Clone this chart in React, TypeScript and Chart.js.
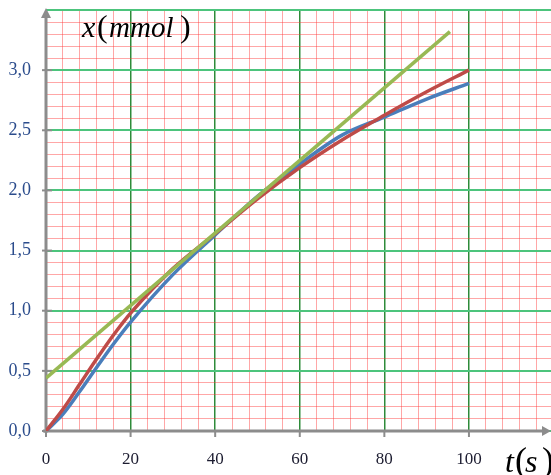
import { useEffect, useRef } from 'react';
import { Chart, registerables } from 'chart.js';

Chart.register(...registerables);

const W = 551;
const H = 475;

// time (s)
const T = [0, 4, 8, 12, 16, 20, 30, 40, 50, 60, 70, 80, 90, 100];
// red curve x (mmol)
const RED = [0, 0.18, 0.39, 0.6, 0.8, 0.98, 1.35, 1.64, 1.93, 2.19, 2.42, 2.625, 2.82, 3.0];
// blue curve x (mmol)
const BLUE = [0, 0.14, 0.33, 0.53, 0.725, 0.905, 1.3, 1.63, 1.95, 2.22, 2.46, 2.61, 2.76, 2.89];
// tangent line
const TAN_T = [0, 95.5];
const TAN_X = [0.44, 3.32];

const X_LABELS = [0, 20, 40, 60, 80, 100];
const Y_LABELS = [0, 0.5, 1.0, 1.5, 2.0, 2.5, 3.0];

const SERIF = '"Liberation Serif", "Times New Roman", serif';

function pts(xs: number[], ys: number[]) {
  return xs.map((x, i) => ({ x, y: ys[i] }));
}

export default function App() {
  const ref = useRef<HTMLCanvasElement>(null);

  useEffect(() => {
    if (!ref.current) return;

    const decor = {
      id: 'decor',
      beforeDatasetsDraw(chart: any) {
        const { ctx, chartArea: a, scales } = chart;
        const xs = scales.x;
        const ys = scales.y;
        const x0 = xs.getPixelForValue(0);
        const y0 = ys.getPixelForValue(0);
        ctx.save();
        ctx.strokeStyle = '#8c8c8c';
        ctx.fillStyle = '#8c8c8c';
        ctx.lineWidth = 3;
        // y axis
        ctx.beginPath();
        ctx.moveTo(x0, y0 + 2);
        ctx.lineTo(x0, a.top + 6);
        ctx.stroke();
        ctx.beginPath();
        ctx.moveTo(x0 - 5, a.top + 8);
        ctx.lineTo(x0 + 5, a.top + 8);
        ctx.lineTo(x0, a.top - 2);
        ctx.closePath();
        ctx.fill();
        // x axis
        ctx.beginPath();
        ctx.moveTo(x0 - 3, y0);
        ctx.lineTo(W - 7, y0);
        ctx.stroke();
        ctx.beginPath();
        ctx.moveTo(W - 9, y0 - 5);
        ctx.lineTo(W - 9, y0 + 5);
        ctx.lineTo(W, y0);
        ctx.closePath();
        ctx.fill();
        // tick marks
        ctx.lineWidth = 2;
        Y_LABELS.forEach((v) => {
          const py = ys.getPixelForValue(v);
          ctx.beginPath();
          ctx.moveTo(x0 - 4, py);
          ctx.lineTo(x0 + 6, py);
          ctx.stroke();
        });
        X_LABELS.forEach((v) => {
          const px = xs.getPixelForValue(v);
          ctx.beginPath();
          ctx.moveTo(px, y0);
          ctx.lineTo(px, y0 + 6);
          ctx.stroke();
        });
        ctx.restore();
      },
      afterDraw(chart: any) {
        const { ctx } = chart;
        ctx.save();
        ctx.fillStyle = '#000';
        ctx.textBaseline = 'alphabetic';
        ctx.textAlign = 'left';
        // x(mmol)
        ctx.font = `italic 30px ${SERIF}`;
        ctx.fillText('x', 82, 37);
        ctx.font = `32px ${SERIF}`;
        ctx.fillText('(', 97, 37);
        ctx.font = `italic 29px ${SERIF}`;
        ctx.fillText('mmol', 109, 37);
        ctx.font = `32px ${SERIF}`;
        ctx.fillText(')', 180, 37);
        // t(s)
        ctx.font = `italic 32px ${SERIF}`;
        ctx.fillText('t', 505, 472);
        ctx.font = `36px ${SERIF}`;
        ctx.fillText('(', 515, 472);
        ctx.font = `italic 32px ${SERIF}`;
        ctx.fillText('s', 525, 472);
        ctx.font = `36px ${SERIF}`;
        ctx.fillText(')', 542, 472);
        ctx.restore();
      },
    };

    const isMajorX = (v: number) => Math.round(v) % 20 === 0;
    const isMajorY = (v: number) => Math.round(v * 10) % 5 === 0;

    const chart = new Chart(ref.current, {
      type: 'line',
      data: {
        datasets: [
          {
            label: 'tangent',
            data: pts(TAN_T, TAN_X),
            borderColor: '#98b954',
            borderWidth: 3.5,
            pointRadius: 0,
            tension: 0,
          },
          {
            label: 'red',
            data: pts(T, RED),
            borderColor: '#be4b48',
            borderWidth: 3.5,
            pointRadius: 0,
            cubicInterpolationMode: 'monotone',
          },
          {
            label: 'blue',
            data: pts(T, BLUE),
            borderColor: '#4a7ebb',
            borderWidth: 3.5,
            pointRadius: 0,
            cubicInterpolationMode: 'monotone',
          },
        ],
      },
      options: {
        animation: false,
        responsive: false,
        devicePixelRatio: 1,
        layout: { padding: { left: 0, right: 0, top: 10, bottom: 0 } },
        plugins: {
          legend: { display: false },
          tooltip: { enabled: false },
        },
        scales: {
          x: {
            type: 'linear',
            min: 0,
            max: 119.4,
            afterFit(s: any) {
              s.height = 44;
              s.paddingLeft = 0;
              s.paddingRight = 0;
            },
            border: { display: false },
            grid: {
              drawTicks: false,
              color: (c: any) =>
                c.tick && isMajorX(c.tick.value) ? '#2e8b3a' : 'rgba(255,60,60,0.45)',
              lineWidth: (c: any) => (c.tick && isMajorX(c.tick.value) ? 1.5 : 1),
            },
            ticks: {
              stepSize: 4,
              includeBounds: false,
              autoSkip: false,
              maxRotation: 0,
              padding: 18,
              color: '#1c1c30',
              font: { family: SERIF, size: 17 },
              callback: (v: any) => (X_LABELS.includes(Number(v)) ? String(v) : ''),
            },
          },
          y: {
            type: 'linear',
            min: 0,
            max: 3.5,
            afterFit(s: any) {
              s.width = 46;
              s.paddingTop = 0;
              s.paddingBottom = 0;
            },
            border: { display: false },
            grid: {
              drawTicks: false,
              color: (c: any) =>
                c.tick && isMajorY(c.tick.value) ? '#4cc47c' : 'rgba(255,60,60,0.45)',
              lineWidth: (c: any) => (c.tick && isMajorY(c.tick.value) ? 2 : 1),
            },
            ticks: {
              stepSize: 0.1,
              includeBounds: false,
              autoSkip: false,
              padding: 15,
              color: '#2b4c8c',
              font: { family: SERIF, size: 18 },
              callback: (v: any) => {
                const k = Math.round(Number(v) * 10);
                return k % 5 === 0 && k <= 30 ? (k / 10).toFixed(1).replace('.', ',') : '';
              },
            },
          },
        },
      },
      plugins: [decor],
    } as any);

    return () => chart.destroy();
  }, []);

  return (
    <div style={{ position: 'absolute', left: 0, top: 0, width: W, height: H }}>
      <canvas ref={ref} width={W} height={H} style={{ display: 'block' }} />
    </div>
  );
}
